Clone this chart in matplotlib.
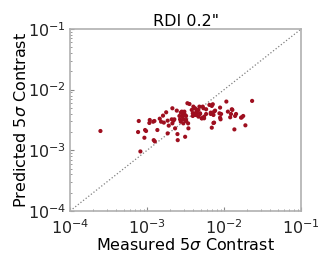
import numpy as np
import matplotlib.pyplot as plt

# measured vs predicted 5-sigma contrast
measured = [2.48e-4, 8.19e-4, 7.8e-4, 7.64e-4, 9.42e-4, 9.7e-4, 9.23e-4,
            1.083e-3, 1.07e-3, 1.2e-3, 1.245e-3, 1.22e-3, 1.26e-3, 1.36e-3,
            1.46e-3, 1.52e-3, 1.61e-3, 1.65e-3, 1.77e-3, 1.85e-3, 1.91e-3,
            1.85e-3, 2.13e-3, 2.09e-3, 2.2e-3, 2.26e-3, 2.13e-3, 2.31e-3,
            2.48e-3, 2.5e-3, 2.43e-3, 2.63e-3, 2.74e-3, 2.85e-3, 2.96e-3,
            3.05e-3, 3.21e-3, 3.21e-3, 3.41e-3, 3.44e-3, 3.12e-3, 3.34e-3,
            3.55e-3, 3.8e-3, 3.92e-3, 4.07e-3, 4.2e-3, 4.42e-3, 4.64e-3,
            4.78e-3, 4.88e-3, 5.28e-3, 5.13e-3, 5.5e-3, 5.84e-3, 6.45e-3,
            6.92e-3, 6.71e-3, 7.13e-3, 7.41e-3, 7.27e-3, 6.92e-3, 8.87e-3,
            9.14e-3, 8.87e-3, 1.07e-2, 1.12e-2, 1.2e-2, 1.23e-2, 1.28e-2,
            1.43e-2, 1.36e-2, 1.66e-2, 1.77e-2, 1.89e-2, 2.31e-2,
            2.82e-3, 2.96e-3, 3.12e-3, 2.9e-3, 2.74e-3, 2.96e-3, 2.68e-3,
            3.21e-3, 3.99e-3, 4.2e-3, 4.42e-3, 4.07e-3, 3.92e-3, 4.33e-3,
            4.64e-3, 4.88e-3, 5.13e-3, 5.39e-3, 5.84e-3, 5.5e-3, 6.71e-3,
            7.27e-3, 7.41e-3, 7.64e-3, 8.7e-3, 9.0e-3, 1.26e-2, 1.39e-2,
            1.7e-2]
predicted = [2.08e-3, 9.57e-4, 3.04e-3, 2.0e-3, 2.16e-3, 2.08e-3, 1.61e-3,
             3.16e-3, 2.82e-3, 2.96e-3, 3.04e-3, 1.47e-3, 1.4e-3, 2.16e-3,
             3.32e-3, 2.96e-3, 3.73e-3, 2.86e-3, 4.23e-3, 3.08e-3, 2.55e-3,
             1.9e-3, 4.93e-3, 3.24e-3, 3.08e-3, 3.24e-3, 2.78e-3, 2.3e-3,
             1.85e-3, 1.47e-3, 4.51e-3, 3.68e-3, 4.18e-3, 3.68e-3, 3.24e-3,
             4.34e-3, 3.68e-3, 3.04e-3, 2.78e-3, 2.3e-3, 1.67e-3, 5.97e-3,
             5.8e-3, 4.63e-3, 4.07e-3, 4.93e-3, 3.82e-3, 4.23e-3, 4.63e-3,
             5.25e-3, 3.97e-3, 5.25e-3, 3.37e-3, 3.59e-3, 4.75e-3, 5.6e-3,
             5.39e-3, 3.97e-3, 5.74e-3, 4.34e-3, 2.82e-3, 2.36e-3, 5.06e-3,
             3.97e-3, 3.45e-3, 6.36e-3, 4.34e-3, 3.5e-3, 3.97e-3, 4.63e-3,
             3.97e-3, 2.21e-3, 3.45e-3, 3.68e-3, 2.58e-3, 6.52e-3,
             4.34e-3, 4.07e-3, 3.82e-3, 3.59e-3, 2.96e-3, 2.78e-3, 3.24e-3,
             3.16e-3, 5.25e-3, 4.93e-3, 4.63e-3, 4.07e-3, 3.68e-3, 3.82e-3,
             3.59e-3, 4.07e-3, 3.37e-3, 4.93e-3, 3.97e-3, 3.37e-3, 4.18e-3,
             3.82e-3, 2.86e-3, 4.51e-3, 4.07e-3, 3.24e-3, 4.75e-3, 3.68e-3,
             3.5e-3]
lims = [1e-4, 1e-1]

fig = plt.figure(figsize=(3.32, 2.66), dpi=100)
ax = fig.add_axes([0.211, 0.207, 0.696, 0.684])

ax.plot(lims, lims, color='gray', lw=0.9, ls=':', zorder=1)
ax.scatter(measured, predicted, s=9, color='#9e0f1f', edgecolors='none', zorder=2)

ax.set_xscale('log')
ax.set_yscale('log')
ax.set_xlim(lims)
ax.set_ylim(lims)

for s in ax.spines.values():
    s.set_color('#b0b0b0')
    s.set_linewidth(1.2)
ax.tick_params(which='both', direction='in', colors='#888888', labelcolor='#222222', labelsize=11.5)
ax.tick_params(which='major', length=3)
ax.tick_params(which='minor', length=1.5)
ax.tick_params(axis='x', which='major', pad=5)
ax.tick_params(axis='y', which='major', pad=3)

ax.set_title('RDI 0.2"', fontsize=11.5, pad=2)
ax.set_xlabel(r'Measured 5$\sigma$ Contrast', fontsize=11.5, labelpad=0)
ax.set_ylabel(r'Predicted 5$\sigma$ Contrast', fontsize=11.5, labelpad=-1)

fig.savefig('out.png', dpi=100)
